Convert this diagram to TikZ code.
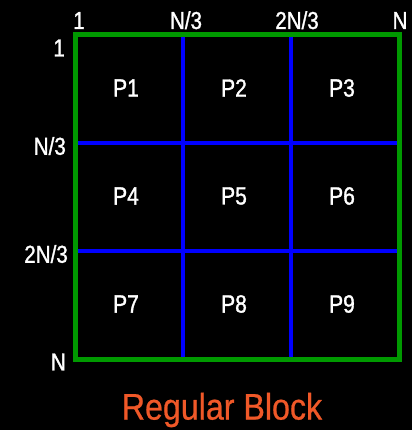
\documentclass[tikz,border=0pt]{standalone}
\usepackage{fontspec}
\setmainfont{Liberation Sans}[FakeStretch=0.85]
\newfontfamily\lblfont{Liberation Sans}[FakeStretch=0.84, FakeBold=1.2]
\newfontfamily\titlefont{Liberation Sans}[FakeStretch=0.87, FakeBold=0.6]
\definecolor{blockgreen}{RGB}{0,153,0}
\definecolor{splitblue}{RGB}{0,0,255}
\definecolor{titleorange}{RGB}{240,88,40}
\tikzset{
  idxlabel/.style={text=white, font=\lblfont\fontsize{24.5}{28}\selectfont, inner sep=0pt},
  partlabel/.style={text=white, font=\lblfont\fontsize{25}{28}\selectfont, inner sep=0pt},
}
\begin{document}
\begin{tikzpicture}[x=1pt, y=-1pt]
    % 背景
    \fill[black] (0,0) rectangle (412,430);
    \useasboundingbox (0,0) rectangle (412,430);
    % 分割線
    \draw[splitblue, line width=4pt] (183,34.5) -- (183,359);
    \draw[splitblue, line width=4pt] (291,34.5) -- (291,359);
    \draw[splitblue, line width=4pt] (75,143) -- (399,143);
    \draw[splitblue, line width=4pt] (75,251) -- (399,251);
    % ブロックの枠
    \draw[blockgreen, line width=5pt] (75,34.5) rectangle (399,359);
    % 上の添字
    \node[idxlabel, anchor=base] (c1) at (79,29) {1};
    \node[idxlabel, anchor=base] (c2) at (186,29) {N/3};
    \node[idxlabel, anchor=base] (c3) at (297,29) {2N/3};
    \node[idxlabel, anchor=base] (c4) at (400,29) {N};
    % 左の添字
    \node[idxlabel, anchor=east] (r1) at (65,48) {1};
    \node[idxlabel, anchor=east] (r2) at (66,146) {N/3};
    \node[idxlabel, anchor=east] (r3) at (68,254) {2N/3};
    \node[idxlabel, anchor=east] (r4) at (66,362) {N};
    % 各プロセス
    \node[partlabel] (p1) at (126,88) {P1};
    \node[partlabel] (p2) at (234,88) {P2};
    \node[partlabel] (p3) at (342,88) {P3};
    \node[partlabel] (p4) at (126,196) {P4};
    \node[partlabel] (p5) at (234,196) {P5};
    \node[partlabel] (p6) at (342,196) {P6};
    \node[partlabel] (p7) at (126,304) {P7};
    \node[partlabel] (p8) at (234,304) {P8};
    \node[partlabel] (p9) at (342,304) {P9};
    % 題名
    \node[text=titleorange, font=\titlefont\fontsize{37}{40}\selectfont, inner sep=0pt] (title) at (222,410) {Regular Block};
  \end{tikzpicture}
\end{document}
